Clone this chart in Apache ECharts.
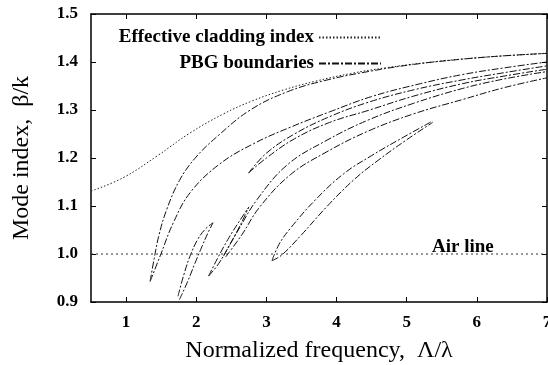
<!DOCTYPE html>
<html>
<head>
<meta charset="utf-8">
<script src="https://cdn.jsdelivr.net/npm/echarts@6/dist/echarts.min.js"></script>
<style>
  html, body { margin: 0; padding: 0; background: #fff; }
  #chart { width: 548px; height: 365px; }
</style>
</head>
<body>
<div id="chart"></div>
<script>
// x = normalized frequency, y = mode index
const cladding = [[0.5, 1.131], [0.96, 1.159], [1.44, 1.204], [1.91, 1.252], [2.39, 1.292], [2.8, 1.319],
  [3.25, 1.342], [3.7, 1.360], [4.2, 1.376], [4.7, 1.388], [5.3, 1.399], [6.1, 1.410], [7, 1.418]];

const gap1Upper = [[1.343, 0.943], [1.40, 0.99], [1.47, 1.04], [1.58, 1.093], [1.76, 1.153], [1.98, 1.199],
  [2.30, 1.245], [2.77, 1.30], [3.3, 1.338], [3.85, 1.362], [4.45, 1.380], [5.1, 1.395], [5.8, 1.406], [6.4, 1.413], [7, 1.418]];
const gap1Lower = [[1.343, 0.943], [1.486, 0.996], [1.676, 1.066], [1.914, 1.128], [2.33, 1.187], [2.82, 1.230],
  [3.34, 1.264], [3.9, 1.296], [4.5, 1.328], [5.2, 1.355], [5.8, 1.374], [6.4, 1.388], [7, 1.400]];

const gap2Left = [[1.74, 0.912], [1.82, 0.955], [1.91, 0.995], [2.02, 1.03], [2.13, 1.052], [2.24, 1.065]];
const gap2Right = [[1.76, 0.905], [1.87, 0.94], [1.98, 0.98], [2.08, 1.015], [2.17, 1.045], [2.24, 1.065]];

const gap3aLeft = [[2.176, 0.954], [2.3, 0.99], [2.45, 1.03], [2.6, 1.065], [2.75, 1.098]];
const gap3aRight = [[2.176, 0.954], [2.32, 0.98], [2.48, 1.02], [2.62, 1.058], [2.75, 1.098]];

const gap3bUpper = [[2.39, 0.996], [2.6, 1.05], [2.87, 1.114], [3.3, 1.186], [3.85, 1.236], [4.45, 1.279],
  [5.1, 1.314], [5.8, 1.345], [6.4, 1.365], [7, 1.38]];
const gap3bLower = [[2.42, 0.994], [2.65, 1.04], [2.9, 1.097], [3.34, 1.165], [3.85, 1.212], [4.45, 1.256],
  [5.1, 1.292], [5.8, 1.322], [6.4, 1.347], [7, 1.367]];

const gap4Upper = [[2.747, 1.169], [3.0, 1.21], [3.4, 1.25], [3.9, 1.286], [4.45, 1.316], [5.1, 1.342],
  [5.8, 1.363], [6.4, 1.378], [7, 1.392]];
const gap4Lower = [[2.747, 1.169], [3.0, 1.2], [3.4, 1.24], [3.9, 1.274], [4.45, 1.299], [5.1, 1.329],
  [5.8, 1.355], [6.4, 1.371], [7, 1.385]];

const gap5Upper = [[3.08, 0.986], [3.18, 1.02], [3.35, 1.055], [3.7, 1.113], [4.1, 1.167], [4.5, 1.205], [4.95, 1.243], [5.37, 1.277]];
const gap5Lower = [[3.08, 0.986], [3.22, 0.998], [3.5, 1.04], [3.87, 1.10], [4.25, 1.155], [4.6, 1.196], [5.0, 1.238], [5.37, 1.274]];

const airLine = [[0.5, 1.0], [7, 1.0]];

const xTicks = [1, 2, 3, 4, 5, 6, 7];

const pbgCurves = [gap1Upper, gap1Lower, gap2Left, gap2Right, gap3aLeft, gap3aRight,
  gap3bUpper, gap3bLower, gap4Upper, gap4Lower, gap5Upper, gap5Lower];

const serif = 'Liberation Serif';
const chart = echarts.init(document.getElementById('chart'));

const pbgStyle = { color: '#111', width: 1, type: [7, 2, 2, 2] };

const series = [
  {
    name: 'Effective cladding index',
    type: 'line',
    data: cladding,
    smooth: 0.4,
    symbol: 'none',
    lineStyle: { color: '#222', width: 1, type: [1.5, 2] },
    itemStyle: { color: '#222' },
    z: 3
  },
  {
    name: 'Air line',
    type: 'line',
    data: airLine,
    symbol: 'none',
    lineStyle: { color: '#333', width: 1, type: [2, 3] },
    markPoint: {
      symbol: 'circle',
      symbolSize: 0,
      data: [{ coord: [5.8, 1.0] }],
      label: {
        show: true,
        formatter: 'Air line',
        position: 'top',
        distance: 2,
        offset: [0, 5],
        color: '#000',
        fontFamily: serif,
        fontWeight: 'bold',
        fontSize: 19
      }
    }
  }
];

pbgCurves.forEach(function (pts) {
  series.push({
    name: 'PBG boundaries',
    type: 'line',
    data: pts,
    smooth: 0.4,
    symbol: 'none',
    lineStyle: pbgStyle,
    itemStyle: { color: '#111' }
  });
});

function legendFor(name, top) {
  return {
    data: [name],
    right: 161,
    top: top,
    align: 'right',
    itemWidth: 62,
    itemHeight: 10,
    itemGap: 0,
    selectedMode: false,
    itemStyle: { opacity: 0 },
    textStyle: { fontFamily: serif, fontWeight: 'bold', fontSize: 19, color: '#000' }
  };
}

const axisLineStyle = { lineStyle: { color: '#000', width: 1.5 } };

chart.setOption({
  animation: false,
  backgroundColor: '#fff',
  legend: [legendFor('Effective cladding index', 23), legendFor('PBG boundaries', 49)],
  grid: { left: 91, right: 1, top: 14, bottom: 63, outerBoundsMode: 'none' },
  xAxis: [
    {
      type: 'value',
      min: 0.5,
      max: 7,
      position: 'bottom',
      axisLine: axisLineStyle,
      splitLine: { show: false },
      axisTick: { inside: true, length: 5, customValues: xTicks, lineStyle: { color: '#000' } },
      axisLabel: {
        customValues: xTicks,
        margin: 12,
        color: '#000',
        fontFamily: serif,
        fontWeight: 'bold',
        fontSize: 17
      },
      name: 'Normalized frequency,  Λ/λ',
      nameLocation: 'middle',
      nameGap: 37,
      nameTextStyle: { fontFamily: serif, fontSize: 24, color: '#000' }
    },
    {
      type: 'value',
      min: 0.5,
      max: 7,
      position: 'top',
      axisLine: axisLineStyle,
      splitLine: { show: false },
      axisTick: { inside: true, length: 5, customValues: xTicks, lineStyle: { color: '#000' } },
      axisLabel: { show: false }
    }
  ],
  yAxis: [
    {
      type: 'value',
      min: 0.9,
      max: 1.5,
      interval: 0.1,
      axisLine: axisLineStyle,
      splitLine: { show: false },
      axisTick: { inside: true, length: 5, lineStyle: { color: '#000' } },
      axisLabel: {
        margin: 13,
        color: '#000',
        fontFamily: serif,
        fontWeight: 'bold',
        fontSize: 17,
        formatter: function (v) { return v.toFixed(1); }
      },
      name: 'Mode index,  β/k',
      nameLocation: 'middle',
      nameGap: 57,
      nameTextStyle: { fontFamily: serif, fontSize: 24, color: '#000' }
    },
    {
      type: 'value',
      min: 0.9,
      max: 1.5,
      interval: 0.1,
      position: 'right',
      axisLine: axisLineStyle,
      splitLine: { show: false },
      axisTick: { inside: true, length: 5, lineStyle: { color: '#000' } },
      axisLabel: { show: false }
    }
  ],
  series: series
});
</script>
</body>
</html>
